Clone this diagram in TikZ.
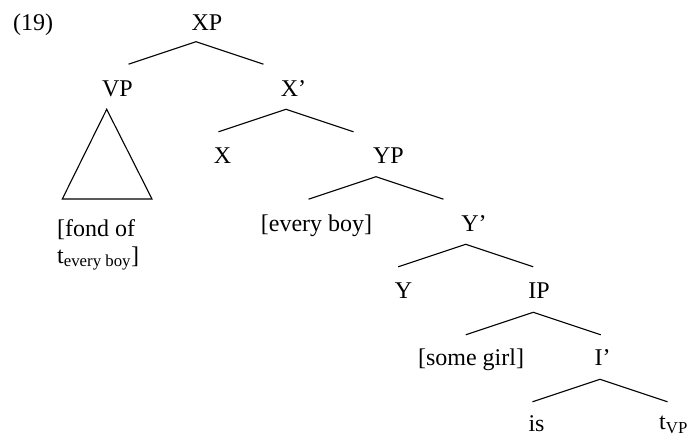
\documentclass[tikz,border=0pt]{standalone}
\usepackage{fontspec}
\setmainfont{Liberation Serif}
% a branching: two arms hanging from a top point
\newcommand{\branch}[1]{\draw[arm] (#1) ++(-67.5,22.5) -- (#1) -- ++(67.5,22.5);}
\begin{document}
\begin{tikzpicture}[x=1pt,y=-1pt,
    lab/.style={anchor=base,inner sep=0pt,font=\fontsize{24}{27}\selectfont},
    arm/.style={line width=1.1pt}]
    \useasboundingbox (0,0) rectangle (691,437);

    %etichette
    \node[lab,anchor=base west] (num) at (13,30) {(19)};
    \node[lab] (xp) at (207,30) {XP};
    \node[lab] (vp) at (117.5,96.7) {VP};
    \node[lab] (xbar) at (293.5,96.7) {X’};
    \node[lab] (x) at (222.5,163.3) {X};
    \node[lab] (yp) at (388.5,163.3) {YP};
    \node[lab] (evboy) at (316.5,231) {[every boy]};
    \node[lab] (ybar) at (474,231) {Y’};
    \node[lab] (y) at (403.5,298) {Y};
    \node[lab] (ip) at (539,298) {IP};
    \node[lab] (sgirl) at (471,365) {[some girl]};
    \node[lab] (ibar) at (602.5,365) {I’};
    \node[lab] (is) at (536.5,431) {is};
    \node[lab,anchor=base west] (tvp) at (659,429.5) {t\textsubscript{VP}};
    \node[lab,anchor=base west] (fond) at (57,236) {[fond of};
    \node[lab,anchor=base west] (tboy) at (57,263) {t\textsubscript{every boy}]};

    %rami
    \coordinate (xp-top) at (196,41.7);
    \coordinate (xbar-top) at (286,109.3);
    \coordinate (yp-top) at (376,176.7);
    \coordinate (ybar-top) at (465.7,244.3);
    \coordinate (ip-top) at (533.3,312.3);
    \coordinate (ibar-top) at (600,379.3);
    \branch{xp-top}
    \branch{xbar-top}
    \branch{yp-top}
    \branch{ybar-top}
    \branch{ip-top}
    \branch{ibar-top}

    %triangolo
    \coordinate (vp-top) at (106.7,109.3);
    \draw[arm] (vp-top) -- (62.3,199) -- (152,199) -- cycle;
\end{tikzpicture}
\end{document}
